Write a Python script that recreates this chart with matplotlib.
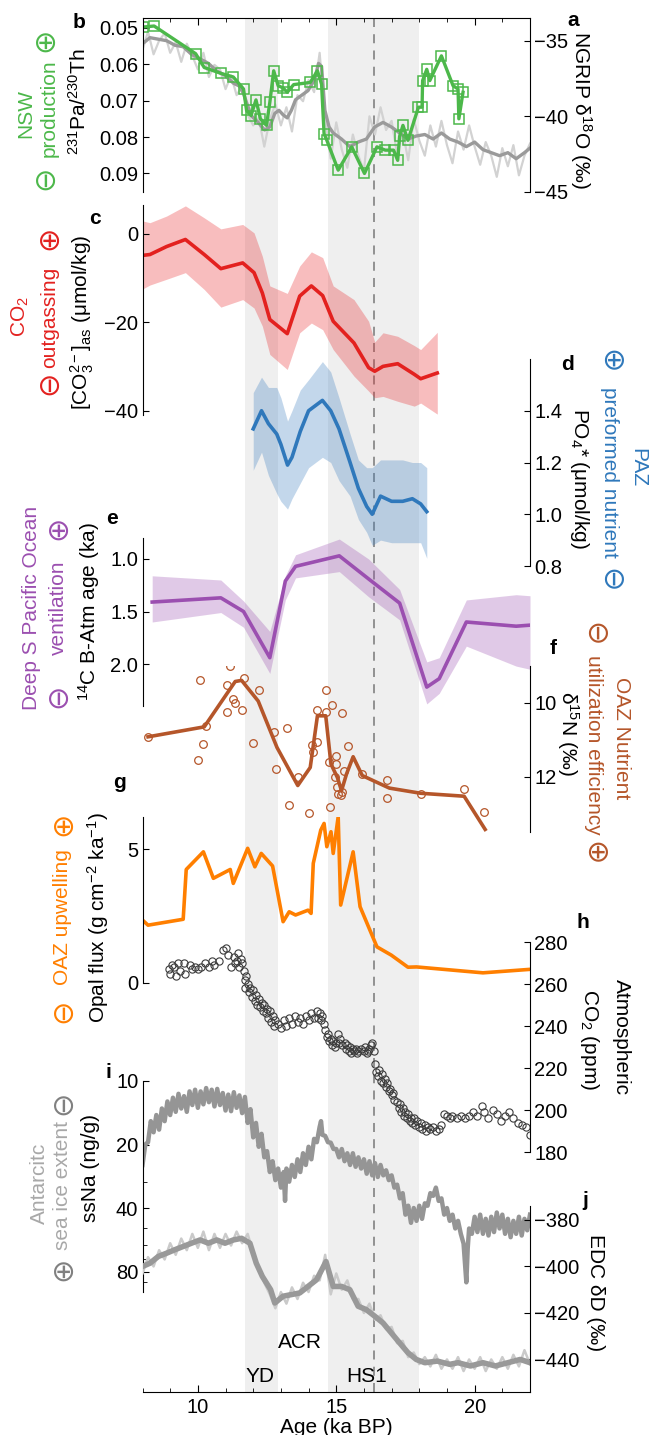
import numpy as np
import matplotlib
matplotlib.use("Agg")
import matplotlib.pyplot as plt
from matplotlib.ticker import FixedLocator, MultipleLocator, NullFormatter, LogLocator

plt.rcParams['font.family'] = ['Liberation Sans', 'DejaVu Sans']
plt.rcParams['mathtext.fontset'] = 'custom'
plt.rcParams['mathtext.rm'] = 'Liberation Sans'
plt.rcParams['mathtext.it'] = 'Liberation Sans:italic'
plt.rcParams['mathtext.default'] = 'regular'

# ---- event windows (ka BP)
yd = (11.7, 12.9)
hs1 = (14.7, 18.0)
dash_age = 16.35

# ---- a: NGRIP d18O
ngrip_age = [8.0, 8.27, 8.57, 8.87, 9.17, 9.47, 9.77, 10.08, 10.38, 10.68, 10.98, 11.28, 11.5, 11.65,
             11.8, 11.95, 12.18, 12.41, 12.6, 12.78, 12.93, 13.08, 13.23, 13.38, 13.53, 13.68, 13.98,
             14.21, 14.36, 14.47, 14.59, 14.74, 14.89, 15.19, 15.49, 15.79, 16.09, 16.39, 16.69, 16.99,
             17.29, 17.59, 17.89, 18.2, 18.5, 18.8, 19.1, 19.4, 19.7, 20.0, 20.3, 20.6, 20.9, 21.2,
             21.5, 21.8, 22.0]
ngrip_smooth = [-35.2, -34.8, -34.9, -35.0, -35.3, -35.4, -35.9, -36.2, -36.5, -37.0, -37.3, -37.8, -38.0,
                -38.5, -39.3, -40.0, -40.4, -40.9, -40.7, -39.8, -39.6, -39.9, -40.1, -39.6, -38.9, -38.7,
                -38.3, -37.6, -36.5, -36.7, -39.6, -40.7, -41.1, -41.5, -42.0, -41.7, -41.5, -40.7, -40.4,
                -40.7, -41.1, -41.5, -41.3, -41.2, -41.5, -41.1, -41.5, -41.7, -42.0, -41.7, -42.2, -42.4,
                -42.6, -42.4, -42.8, -42.4, -42.1]
ngrip_raw_age = [8.0, 8.2, 8.4, 8.6, 8.8, 9.0, 9.2, 9.4, 9.6, 9.8, 10.0, 10.2, 10.4, 10.6, 10.8, 11.0,
                 11.2, 11.4, 11.6, 11.8, 12.0, 12.2, 12.4, 12.6, 12.8, 13.0, 13.2, 13.4, 13.6, 13.8, 14.0,
                 14.2, 14.4, 14.6, 14.8, 15.0, 15.2, 15.4, 15.6, 15.8, 16.0, 16.2, 16.4, 16.6, 16.8, 17.0,
                 17.2, 17.4, 17.6, 17.8, 18.0, 18.2, 18.4, 18.6, 18.8, 19.0, 19.2, 19.4, 19.6, 19.8, 20.0,
                 20.2, 20.4, 20.6, 20.8, 21.0, 21.2, 21.4, 21.6, 21.8, 22.0]
ngrip_raw = [-35.6, -34.4, -35.9, -35.0, -34.5, -35.8, -35.1, -36.4, -35.2, -36.0, -36.9, -35.8, -37.4,
             -36.6, -36.9, -38.2, -37.3, -38.6, -38.0, -39.9, -40.6, -40.1, -42.0, -40.2, -39.2, -40.6,
             -39.4, -41.0, -38.6, -39.0, -37.6, -38.4, -35.8, -40.2, -42.8, -40.4, -42.2, -43.4, -41.2,
             -42.6, -43.6, -40.0, -41.2, -39.4, -40.9, -40.3, -42.5, -41.0, -42.9, -40.2, -41.6, -42.6,
             -40.6, -42.0, -40.3, -41.9, -43.1, -41.0, -42.2, -40.6, -42.0, -43.2, -41.7, -42.6, -44.0,
             -42.1, -43.3, -41.9, -43.9, -42.6, -41.8]

# ---- b: 231Pa/230Th
pa_age = [8.0, 8.42, 9.92, 10.23, 10.83, 11.28, 11.65, 11.76, 11.92, 12.10, 12.26, 12.48, 12.60, 12.74,
          12.90, 13.08, 13.23, 13.46, 14.06, 14.32, 14.47, 14.56, 14.66, 15.07, 15.56, 16.02, 16.47,
          16.77, 17.07, 17.22, 17.29, 17.41, 17.59, 17.97, 18.10, 18.12, 18.27, 18.38, 18.80, 19.22,
          19.40, 19.43, 19.58]
pa_th = [0.0498, 0.0495, 0.0571, 0.0609, 0.0625, 0.0635, 0.0668, 0.0727, 0.0741, 0.0698, 0.0750, 0.0768,
         0.0705, 0.0618, 0.0659, 0.0665, 0.0677, 0.0656, 0.0650, 0.0618, 0.0655, 0.0791, 0.0809, 0.0891,
         0.0827, 0.0900, 0.0827, 0.0836, 0.0836, 0.0864, 0.0798, 0.0768, 0.0809, 0.0718, 0.0718, 0.0645,
         0.0614, 0.0645, 0.0577, 0.0659, 0.0668, 0.0750, 0.0677]

# ---- c: [CO3 2-]as
co3_age = [8.0, 8.27, 8.87, 9.55, 10.23, 10.83, 11.62, 12.03, 12.33, 12.6, 13.23, 13.68, 14.1, 14.51,
           14.89, 15.64, 16.17, 16.39, 16.69, 17.22, 17.82, 18.05, 18.65]
co3 = [-4.9, -4.7, -2.9, -1.3, -4.7, -7.9, -6.6, -8.8, -13.4, -19.4, -22.6, -14.1, -11.8, -14.0, -19.8,
       -24.7, -30.3, -31.1, -30.0, -29.4, -31.8, -32.8, -31.5]
co3_hi = [2.9, 2.5, 4.0, 6.3, 3.6, 1.1, 2.1, 0.2, -5.1, -11.8, -13.5, -7.3, -4.1, -5.4, -11.8, -14.9,
          -19.8, -24.5, -22.4, -23.2, -25.3, -26.2, -22.3]
co3_lo = [-12.5, -11.6, -10.3, -8.8, -12.6, -16.6, -14.9, -16.8, -20.9, -27.3, -30.7, -22.4, -20.2,
          -21.7, -26.2, -32.2, -35.6, -37.1, -36.8, -37.9, -39.0, -38.3, -40.8]

# ---- d: PO4*
po4_age = [12.0, 12.3, 12.55, 12.85, 13.0, 13.24, 13.4, 13.7, 14.0, 14.5, 14.8, 15.1, 15.5, 15.8, 16.1,
           16.3, 16.6, 17.0, 17.4, 17.75, 18.05, 18.27]
po4 = [1.33, 1.40, 1.35, 1.31, 1.27, 1.19, 1.22, 1.32, 1.40, 1.44, 1.40, 1.33, 1.20, 1.10, 1.03, 1.00,
       1.07, 1.05, 1.05, 1.06, 1.04, 1.01]
po4_hi = [1.47, 1.53, 1.49, 1.49, 1.45, 1.36, 1.40, 1.48, 1.52, 1.59, 1.55, 1.45, 1.31, 1.21, 1.18,
          1.18, 1.21, 1.21, 1.21, 1.20, 1.20, 1.18]
po4_lo = [1.17, 1.24, 1.15, 1.08, 1.05, 1.02, 1.06, 1.12, 1.18, 1.22, 1.20, 1.13, 1.07, 0.98, 0.93,
          0.88, 0.90, 0.89, 0.89, 0.89, 0.89, 0.83]

# ---- e: 14C B-Atm age
ba_age = [8.35, 10.83, 11.65, 12.6, 13.16, 13.53, 15.11, 16.17, 17.29, 18.27, 18.72, 19.7, 21.5, 22.0]
ba = [1.41, 1.37, 1.50, 1.94, 1.21, 1.07, 0.97, 1.19, 1.42, 2.22, 2.14, 1.60, 1.64, 1.63]
ba_hi = [1.16, 1.20, 1.40, 1.69, 1.16, 0.96, 0.81, 1.00, 1.29, 1.98, 1.94, 1.39, 1.34, 1.35]
ba_lo = [1.60, 1.51, 1.65, 2.09, 1.39, 1.18, 1.12, 1.36, 1.58, 2.38, 2.28, 1.83, 2.02, 2.05]

# ---- f: d15N
n15_age = [8.2, 10.23, 11.35, 11.58, 12.18, 12.86, 13.61, 14.06, 14.32, 14.62, 14.81, 15.04, 15.19,
           15.37, 15.61, 15.94, 16.92, 18.05, 19.62, 20.38]
n15 = [10.92, 10.65, 9.42, 9.39, 9.95, 11.21, 12.24, 11.75, 10.35, 10.35, 11.66, 12.02, 12.38, 11.93,
       11.46, 11.97, 12.31, 12.45, 12.53, 13.43]
n15_pt_age = [8.2, 10.08, 10.0, 10.18, 10.3, 11.17, 11.05, 11.05, 11.28, 11.35, 11.61, 11.65, 12.21,
              12.0, 12.74, 12.81, 13.23, 13.61, 13.31, 14.03, 14.11, 14.17, 14.32, 14.29, 14.63, 14.62,
              14.84, 15.19, 14.74, 14.78, 15.0, 15.0, 14.96, 15.04, 15.08, 15.16, 15.22, 15.41, 15.28,
              15.94, 16.84, 16.84, 18.05, 19.62, 20.35]
n15_pt = [10.92, 9.39, 11.54, 11.12, 10.62, 9.0, 9.51, 10.26, 9.9, 9.99, 10.2, 9.32, 9.66, 11.1, 10.8,
          11.79, 10.69, 12.0, 12.78, 12.98, 11.14, 11.34, 11.05, 10.2, 9.65, 10.26, 10.05, 10.27, 11.61,
          12.83, 11.43, 11.66, 12.02, 12.29, 12.47, 12.5, 12.42, 11.16, 11.84, 11.93, 12.08, 12.59,
          12.47, 12.33, 12.96]

# ---- g: opal flux
opal_age = [8.0, 8.2, 9.47, 9.58, 10.2, 10.56, 11.17, 11.28, 11.8, 12.06, 12.29, 12.7, 13.08, 13.3,
            13.53, 13.98, 14.09, 14.17, 14.44, 14.56, 14.66, 14.81, 14.89, 15.07, 15.16, 15.61, 15.86,
            16.47, 16.99, 17.59, 17.9, 20.3, 22.0]
opal = [2.35, 2.16, 2.38, 4.24, 4.9, 3.91, 4.24, 3.72, 5.03, 4.34, 4.84, 4.37, 2.29, 2.66, 2.54, 2.72,
        2.6, 4.47, 5.71, 5.96, 5.09, 5.65, 4.84, 6.21, 2.91, 4.9, 2.85, 1.35, 1.04, 0.59, 0.6, 0.38, 0.51]

# ---- h: atmospheric CO2
co2_age = [8.95, 9.0, 9.05, 9.15, 9.2, 9.3, 9.35, 9.5, 9.55, 9.7, 9.8, 9.9, 10.0, 10.1, 10.25, 10.4,
           10.5, 10.6, 10.75, 10.9, 11.0, 11.1, 11.2, 11.3, 11.35, 11.4, 11.45, 11.5, 11.55, 11.6,
           11.65, 11.7, 11.72, 11.75, 11.8, 11.85, 11.9, 11.95, 12.0, 12.05, 12.1, 12.15, 12.2, 12.25,
           12.3, 12.35, 12.4, 12.45, 12.5, 12.55, 12.6, 12.65, 12.7, 12.75, 12.8, 12.9, 13.0, 13.1,
           13.2, 13.3, 13.4, 13.5, 13.6, 13.7, 13.8, 13.9, 14.0, 14.1, 14.2, 14.3, 14.35, 14.4, 14.45,
           14.5, 14.55, 14.6, 14.65, 14.7, 14.75, 14.8, 14.85, 14.9, 14.95, 15.0, 15.05, 15.1, 15.15,
           15.2, 15.3, 15.35, 15.4, 15.45, 15.5, 15.55, 15.6, 15.65, 15.7, 15.75, 15.8, 15.9, 16.0,
           16.05, 16.1, 16.15, 16.2, 16.25, 16.3, 16.35, 16.4, 16.45, 16.5, 16.55, 16.6, 16.65, 16.7,
           16.75, 16.8, 16.85, 16.9, 16.95, 17.0, 17.05, 17.1, 17.2, 17.25, 17.3, 17.35, 17.4, 17.45,
           17.5, 17.55, 17.6, 17.65, 17.7, 17.75, 17.8, 17.85, 17.9, 18.0, 18.05, 18.1, 18.2, 18.25,
           18.3, 18.4, 18.5, 18.6, 18.7, 18.8, 18.9, 19.0, 19.1, 19.2, 19.35, 19.5, 19.65, 19.8, 19.95,
           20.1, 20.25, 20.35, 20.5, 20.65, 20.8, 20.95, 21.1, 21.25, 21.4, 21.55, 21.7, 21.85, 22.0]
co2 = [267, 265, 269, 268, 264, 270, 266, 270, 265, 269, 267, 268, 267, 268, 270, 268, 271, 269, 271,
       276, 277, 274, 268, 273, 270, 271, 275, 268, 272, 270, 266, 262, 258, 264, 260, 256, 258, 254,
       257, 252, 255, 250, 253, 249, 251, 247, 250, 246, 248, 244, 247, 242, 245, 240, 243, 241, 239,
       243, 240, 244, 241, 245, 242, 244, 241, 245, 243, 246, 244, 247, 244, 246, 243, 245, 241, 238,
       235, 236, 233, 234, 231, 233, 230, 232, 236, 232, 234, 231, 232, 229, 231, 228, 230, 227, 229,
       228, 229, 227, 228, 229, 228, 230, 227, 228, 229, 231, 232, 228, 222, 218, 216, 219, 214, 217,
       213, 215, 211, 213, 209, 210, 207, 208, 205, 204, 201, 203, 199, 201, 197, 199, 196, 198, 195,
       196, 194, 196, 193, 195, 192, 194, 191, 193, 190, 192, 191, 192, 190, 191, 193, 198, 197, 196,
       197, 196, 197, 196, 197, 199, 197, 202, 199, 196, 200, 198, 195, 197, 199, 196, 194, 193, 192,
       188]

# ---- i: ssNa
na_age = [8.0, 8.1, 8.2, 8.3, 8.4, 8.5, 8.6, 8.7, 8.8, 8.9, 9.0, 9.1, 9.2, 9.3, 9.4, 9.5, 9.6, 9.7,
          9.8, 9.9, 10.0, 10.1, 10.2, 10.3, 10.4, 10.5, 10.6, 10.7, 10.8, 10.9, 11.0, 11.1, 11.2, 11.3,
          11.4, 11.5, 11.6, 11.7, 11.8, 11.9, 12.0, 12.1, 12.2, 12.3, 12.4, 12.5, 12.6, 12.7, 12.8,
          12.9, 13.0, 13.1, 13.15, 13.2, 13.3, 13.4, 13.5, 13.6, 13.7, 13.8, 13.9, 14.0, 14.1, 14.2,
          14.3, 14.4, 14.45, 14.5, 14.6, 14.7, 14.8, 14.9, 15.0, 15.1, 15.2, 15.3, 15.4, 15.5, 15.6,
          15.7, 15.8, 15.9, 16.0, 16.1, 16.2, 16.3, 16.4, 16.5, 16.6, 16.7, 16.8, 16.9, 17.0, 17.1,
          17.2, 17.3, 17.4, 17.5, 17.6, 17.7, 17.8, 17.9, 18.0, 18.1, 18.2, 18.3, 18.4, 18.5, 18.6,
          18.7, 18.8, 18.9, 19.0, 19.1, 19.2, 19.3, 19.4, 19.5, 19.6, 19.7, 19.75, 19.8, 19.9, 20.0,
          20.1, 20.2, 20.3, 20.4, 20.5, 20.6, 20.7, 20.8, 20.9, 21.0, 21.1, 21.2, 21.3, 21.4, 21.5,
          21.6, 21.7, 21.8, 21.9, 22.0]
na = ([25, 20, 19.5, 15.5, 17.5, 14.5, 17, 13.5, 15.5, 12.5,
       14.5, 12, 14, 11.5, 13.5, 11.8, 14, 11.2, 13, 11,
       13.4, 11.2, 12.9, 10.8, 12.6, 11, 13.2, 10.9, 13, 11.4,
       13.8, 11.6, 13.9, 11.3, 13.4, 11.7, 14.2, 11.9, 15.8, 13.6,
       18.5, 15.8, 20.5, 17.8, 23, 21.5, 27, 24, 29.5, 26,
       32, 27]
      + [37]
      + [26, 30, 25, 28.5, 23.5, 27, 22, 25, 20.5, 23.5, 18.8, 19.5, 16.5]
      + [15.5]
      + [18, 18.2, 19.5, 19.6, 21, 21, 23, 21, 24, 22,
         25, 22, 25.5, 23, 26, 23.5, 27.5, 24, 28, 24.5,
         28.5, 25, 28, 26.5, 29.5, 28, 32, 31, 36, 34,
         43, 39, 47, 40, 46, 39, 45, 38, 39, 34,
         35, 32, 37, 36, 43, 40, 46, 43, 50, 46]
      + [53, 59, 90, 62, 50, 53, 44, 52, 43, 53, 45, 54, 44, 52, 42, 50, 43, 53, 45, 55, 46, 53, 44,
         54, 45, 51, 43])

# ---- j: EDC dD
dd_age = [8.0, 8.27, 8.57, 8.87, 9.17, 9.47, 9.77, 10.08, 10.38, 10.68, 10.98, 11.28, 11.58, 11.88,
          12.11, 12.33, 12.63, 12.78, 13.08, 13.38, 13.68, 13.98, 14.29, 14.63, 14.89, 15.19, 15.49,
          15.79, 16.09, 16.39, 16.69, 16.99, 17.29, 17.59, 17.89, 18.2, 18.65, 19.1, 19.4, 19.85,
          20.3, 20.75, 21.2, 21.65, 22.0]
dd_smooth = [-400, -398.6, -395.7, -394.3, -392.8, -391.4, -390, -388.6, -390, -388.6, -390, -388.6,
             -387.9, -390, -398.6, -404.3, -410, -415.7, -412.8, -412.1, -411.4, -408.6, -405.7, -397.9,
             -408.6, -408.6, -410, -417.1, -418.6, -421.4, -424.3, -428.6, -432.9, -437.1, -440, -441.4,
             -440.7, -442.1, -441.4, -442.8, -441.4, -442.8, -441.4, -440, -441.4]
dd_raw_age = ngrip_raw_age
dd_raw = [-403, -396, -400, -393, -397, -390, -395, -388, -393, -386, -392, -385, -393, -386, -392, -386,
          -391, -385, -390, -386, -394, -401, -407, -412, -418, -411, -416, -409, -414, -407, -411, -404,
          -406, -395, -412, -403, -410, -406, -414, -414, -420, -416, -423, -421, -427, -426, -433, -432,
          -439, -437, -442, -439, -443, -438, -444, -440, -444, -439, -445, -440, -444, -439, -445, -440,
          -444, -439, -444, -438, -443, -436, -442]

# ---------------------------------------------------------------- layout
W, H = 650, 1435
L, R = 142.5, 530
FS = 14.5
LFS = 15

fig = plt.figure(figsize=(W / 100, H / 100), dpi=100)


def panel(top, bot):
    ax = fig.add_axes([L / W, 1 - bot / H, (R - L) / W, (bot - top) / H])
    ax.set_xlim(8, 22)
    ax.patch.set_visible(False)
    for s in ax.spines.values():
        s.set_visible(False)
    ax.set_xticks([])
    return ax


def left(ax):
    ax.spines['left'].set_visible(True)
    ax.yaxis.tick_left()
    ax.tick_params(axis='y', which='both', direction='in', length=4, labelsize=FS, pad=3)


def right(ax):
    ax.spines['right'].set_visible(True)
    ax.yaxis.tick_right()
    ax.tick_params(axis='y', which='both', direction='in', length=4, labelsize=FS, pad=3)


def txt(x, y, s, color='black', rot=90, size=LFS, **kw):
    fig.text(x / W, 1 - y / H, s, color=color, rotation=rot, ha='center', va='center',
             fontsize=size, **kw)


def sym(x, y, s, color, rot=90):
    fig.text(x / W, 1 - y / H, s, color=color, rotation=rot, ha='center', va='center_baseline',
             fontsize=21, family=['DejaVu Sans'])


# background: shading, dashed line and age axis
bg = panel(18, 1392)
bg.axvspan(*yd, color='#efefef', lw=0)
bg.axvspan(*hs1, color='#efefef', lw=0)
bg.axvline(dash_age, color='#8a8a8a', ls=(0, (5, 4)), lw=1.3)
bg.set_ylim(0, 1)
bg.set_yticks([])
bg.spines['bottom'].set_visible(True)
bg.spines['top'].set_visible(True)
bg.xaxis.set_ticks_position('both')
bg.set_xticks([10, 15, 20])
bg.xaxis.set_minor_locator(MultipleLocator(1))
bg.tick_params(axis='x', which='major', direction='in', length=5, labelsize=FS, pad=4)
bg.tick_params(axis='x', which='minor', direction='in', length=3)
bg.set_xlabel('Age (ka BP)', fontsize=LFS, labelpad=1)

# a: NGRIP
ax = panel(18, 192)
right(ax)
ax.plot(ngrip_raw_age, ngrip_raw, color='#d2d2d2', lw=1.6)
ax.plot(ngrip_age, ngrip_smooth, color='#9a9a9a', lw=2.4)
ax.set_ylim(-45, -33.5)
ax.set_yticks([-45, -40, -35])

# b: Pa/Th
ax = panel(18, 192)
left(ax)
ax.plot(pa_age, pa_th, color='#4cb84a', lw=2.4, marker='s', ms=6.5, mfc='none', mec='#4cb84a', mew=1.1)
ax.set_ylim(0.0951, 0.0473)
ax.set_yticks([0.05, 0.06, 0.07, 0.08, 0.09])
ax.set_yticklabels(['0.05', '0.06', '0.07', '0.08', '0.09'])

# c: carbonate ion
ax = panel(205, 415)
left(ax)
ax.fill_between(co3_age, co3_lo, co3_hi, color='#e8262a', alpha=0.3, lw=0)
ax.plot(co3_age, co3, color='#e3211f', lw=2.6)
ax.set_ylim(-41, 6.5)
ax.set_yticks([-40, -20, 0])

# d: preformed PO4
ax = panel(359, 566)
right(ax)
ax.fill_between(po4_age, po4_lo, po4_hi, color='#3a7dbf', alpha=0.3, lw=0)
ax.plot(po4_age, po4, color='#2f78bb', lw=2.6)
ax.set_ylim(0.8, 1.6)
ax.set_yticks([0.8, 1.0, 1.2, 1.4])
ax.set_yticklabels(['0.8', '1.0', '1.2', '1.4'])

# e: B-Atm age
ax = panel(538, 706)
left(ax)
ax.fill_between(ba_age, ba_lo, ba_hi, color='#9b4fb0', alpha=0.3, lw=0)
ax.plot(ba_age, ba, color='#9b4fb0', lw=2.6)
ax.set_ylim(2.4, 0.8)
ax.set_yticks([1.0, 1.5, 2.0])
ax.set_yticklabels(['1.0', '1.5', '2.0'])

# f: d15N
ax = panel(666, 832)
right(ax)
ax.plot(n15_pt_age, n15_pt, ls='none', marker='o', ms=5.5, mfc='none', mec='#b5562a', mew=0.9)
ax.plot(n15_age, n15, color='#b5562a', lw=2.6)
ax.set_ylim(13.5, 9)
ax.set_yticks([10, 12])

# g: opal flux
ax = panel(817, 983)
left(ax)
ax.plot(opal_age, opal, color='#ff7f00', lw=2.6)
ax.set_ylim(0, 6.2)
ax.set_yticks([0, 5])

# h: atmospheric CO2
ax = panel(942, 1152)
right(ax)
ax.plot(co2_age, co2, ls='none', marker='o', ms=5.2, mfc='none', mec='#3c3c3c', mew=0.8)
ax.set_ylim(180, 280)
ax.set_yticks([180, 200, 220, 240, 260, 280])

# i: ssNa
ax = panel(1081, 1292)
left(ax)
ax.plot(na_age, na, color='#959595', lw=3.2)
ax.set_yscale('log')
ax.set_ylim(100, 10)
ax.yaxis.set_major_locator(FixedLocator([10, 20, 40, 80]))
ax.yaxis.set_minor_locator(LogLocator(subs=np.arange(2, 10)))
ax.yaxis.set_minor_formatter(NullFormatter())
ax.set_yticklabels(['10', '20', '40', '80'])
ax.tick_params(axis='y', which='minor', length=3)

# j: EDC dD
ax = panel(1206, 1392)
right(ax)
ax.plot(dd_raw_age, dd_raw, color='#cacaca', lw=1.8)
ax.plot(dd_age, dd_smooth, color='#999999', lw=4)
ax.set_ylim(-454, -374)
ax.set_yticks([-440, -420, -400, -380])

# ---- labels
GREEN, RED, BLUE, PURPLE, BROWN, ORANGE, GRAY = ('#4cb84a', '#e3211f', '#2f78bb', '#9b4fb0',
                                                  '#b5562a', '#ff7f00', '#a8a8a8')
txt(26, 113, 'NSW', GREEN)
txt(49, 108, 'production', GREEN)
sym(45, 39, '\u2295', GREEN)
sym(45, 177, '\u2296', GREEN)
txt(79, 102, '$^{231}$Pa/$^{230}$Th')
txt(581, 110, 'NGRIP \u03b4$^{18}$O (\u2030)', rot=270)

txt(20, 317, 'CO$_2$', RED)
txt(50, 317, 'outgassing', RED)
sym(49, 237, '\u2295', RED)
sym(49, 382, '\u2296', RED)
txt(82, 322, '[CO$_3^{2-}$]$_{as}$ (\u03bcmol/kg)')

txt(580, 479, 'PO$_4$* (\u03bcmol/kg)', rot=270)
txt(638, 468, 'PAZ', BLUE, rot=270)
txt(610, 472, 'preformed nutrient', BLUE, rot=270)
sym(609, 360, '\u2295', BLUE, rot=270)
sym(609, 579, '\u2296', BLUE, rot=270)

txt(32, 608, 'Deep S Pacific Ocean', PURPLE)
txt(58, 608, 'ventilation', PURPLE)
sym(58, 527, '\u2295', PURPLE)
sym(58, 695, '\u2296', PURPLE)
txt(89, 612, '$^{14}$C B-Atm age (ka)')

txt(568, 733, '\u03b4$^{15}$N (\u2030)', rot=270)
txt(621, 738, 'OAZ Nutrient', BROWN, rot=270)
txt(594, 745, 'utilization efficiency', BROWN, rot=270)
sym(594, 633, '\u2296', BROWN, rot=270)
sym(594, 852, '\u2295', BROWN, rot=270)

txt(63, 917, 'OAZ upwelling', ORANGE)
sym(63, 823, '\u2295', ORANGE)
sym(63, 1010, '\u2296', ORANGE)
txt(98, 918, 'Opal flux (g cm$^{-2}$ ka$^{-1}$)')

txt(621, 1037, 'Atmospheric', rot=270)
txt(590, 1040, 'CO$_2$ (ppm)', rot=270)

txt(39, 1183, 'Antarcitc', GRAY)
txt(63, 1185, 'sea ice extent', GRAY)
sym(63, 1102, '\u2296', '#808080')
sym(63, 1268, '\u2295', '#808080')
txt(90, 1168, 'ssNa (ng/g)')

txt(596, 1293, 'EDC \u03b4D (\u2030)', rot=270)

for lx, ly, s in [(79, 23, 'b'), (573, 20, 'a'), (95, 218, 'c'), (567, 365, 'd'), (112, 518, 'e'),
                  (553, 648, 'f'), (119, 783, 'g'), (583, 923, 'h'), (108, 1072, 'i'), (585, 1200, 'j')]:
    txt(lx, ly, s, rot=0, size=LFS, fontweight='bold')

txt(260, 1377, 'YD', rot=0)
txt(300, 1343, 'ACR', rot=0)
txt(367, 1377, 'HS1', rot=0)

fig.savefig('out.png', dpi=100)
